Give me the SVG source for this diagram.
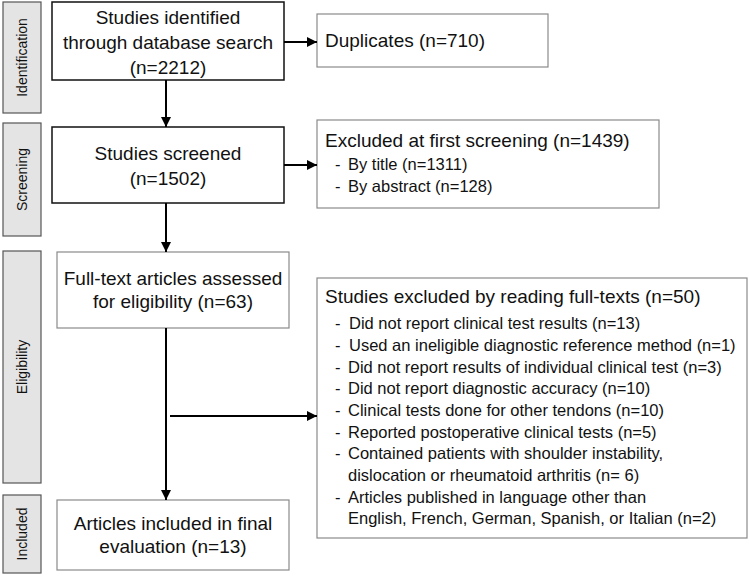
<svg xmlns="http://www.w3.org/2000/svg" width="750" height="577" viewBox="0 0 750 577">
<style>
text{font-family:"Liberation Sans",Arial,sans-serif;fill:#111}
.phase rect{fill:#e4e4e4;stroke:#555;stroke-width:1.2}
.phase text{font-size:14px;text-anchor:middle}
.dark{fill:#fff;stroke:#111;stroke-width:1.5}
.light{fill:#fff;stroke:#8a8a8a;stroke-width:1.2}
.c{font-size:19px;text-anchor:middle}
.h{font-size:19px}
.i{font-size:16.5px}
.conn line{stroke:#000;stroke-width:2}
</style>
<defs>
<marker id="ah" viewBox="0 0 10 10" refX="10" refY="5" markerWidth="10" markerHeight="10" markerUnits="userSpaceOnUse" orient="auto">
<path d="M0,0 L10,5 L0,10 z" fill="#000"/>
</marker>
</defs>
<g id="phase-identification" class="phase"><rect x="3" y="2" width="38" height="111"/><text transform="translate(27,57.5) rotate(-90)">Identification</text></g>
<g id="phase-screening" class="phase"><rect x="3" y="123" width="38" height="113"/><text transform="translate(27,179.5) rotate(-90)">Screening</text></g>
<g id="phase-eligibility" class="phase"><rect x="3" y="251" width="38" height="232"/><text transform="translate(27,367) rotate(-90)">Eligibility</text></g>
<g id="phase-included" class="phase"><rect x="3" y="495" width="38" height="78"/><text transform="translate(27,534) rotate(-90)">Included</text></g>

<g id="identified"><rect class="dark" x="52" y="2" width="232" height="78"/>
<text class="c" x="168" y="24">Studies identified</text>
<text class="c" x="168" y="49">through database search</text>
<text class="c" x="168" y="74">(n=2212)</text></g>
<g id="duplicates"><rect class="light" x="317" y="14" width="231" height="53"/>
<text class="h" x="325" y="47">Duplicates (n=710)</text></g>

<g id="screened"><rect class="dark" x="52" y="127" width="232" height="76"/>
<text class="c" x="168" y="160">Studies screened</text>
<text class="c" x="168" y="185">(n=1502)</text></g>
<g id="excluded-first"><rect class="light" x="317" y="120" width="342" height="88"/>
<text class="h" x="325" y="147">Excluded at first screening (n=1439)</text>
<text class="i" x="335" y="170">-</text><text class="i" x="348" y="170">By title (n=1311)</text>
<text class="i" x="335" y="192">-</text><text class="i" x="348" y="192">By abstract (n=128)</text></g>

<g id="fulltext"><rect class="light" x="57" y="252" width="232" height="76"/>
<text class="c" x="173" y="285">Full-text articles assessed</text>
<text class="c" x="173" y="308">for eligibility (n=63)</text></g>
<g id="excluded-fulltext"><rect class="light" x="317" y="278" width="430" height="260"/>
<text class="h" x="325" y="303">Studies excluded by reading full-texts (n=50)</text>
<text class="i" x="335" y="329">-</text><text class="i" x="349" y="329">Did not report clinical test results (n=13)</text>
<text class="i" x="335" y="351">-</text><text class="i" x="349" y="351">Used an ineligible diagnostic reference method (n=1)</text>
<text class="i" x="335" y="373">-</text><text class="i" x="348" y="373">Did not report results of individual clinical test (n=3)</text>
<text class="i" x="335" y="394">-</text><text class="i" x="348" y="394">Did not report diagnostic accuracy (n=10)</text>
<text class="i" x="335" y="416">-</text><text class="i" x="348" y="416">Clinical tests done for other tendons (n=10)</text>
<text class="i" x="335" y="438">-</text><text class="i" x="348" y="438">Reported postoperative clinical tests (n=5)</text>
<text class="i" x="335" y="459">-</text><text class="i" x="348" y="459">Contained patients with shoulder instability,</text>
<text class="i" x="348" y="481">dislocation or rheumatoid arthritis (n= 6)</text>
<text class="i" x="335" y="503">-</text><text class="i" x="348" y="503">Articles published in language other than</text>
<text class="i" x="348" y="524">English, French, German, Spanish, or Italian (n=2)</text></g>

<g id="included"><rect class="light" x="57" y="500" width="232" height="70"/>
<text class="c" x="173" y="530">Articles included in final</text>
<text class="c" x="173" y="553">evaluation (n=13)</text></g>

<g id="connectors" class="conn">
<line x1="284" y1="42" x2="317" y2="42" marker-end="url(#ah)"/>
<line x1="166" y1="80" x2="166" y2="127" marker-end="url(#ah)"/>
<line x1="284" y1="165" x2="317" y2="165" marker-end="url(#ah)"/>
<line x1="166" y1="203" x2="166" y2="252" marker-end="url(#ah)"/>
<line x1="166" y1="328" x2="166" y2="500" marker-end="url(#ah)"/>
<line x1="170" y1="416" x2="317" y2="416" marker-end="url(#ah)"/>
</g>
</svg>
